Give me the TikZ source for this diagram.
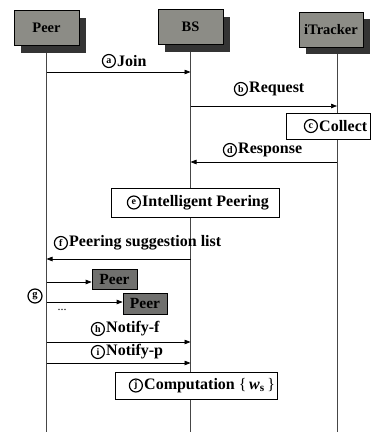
\documentclass[tikz,border=0pt]{standalone}
\usepackage{fontspec}
\setmainfont{Liberation Serif}
\usetikzlibrary{arrows.meta,shadows,backgrounds,positioning}
\definecolor{boxgray}{RGB}{140,140,134}
\definecolor{shadowgray}{RGB}{52,52,52}
\definecolor{peergray}{RGB}{112,112,110}
\definecolor{linegray}{RGB}{70,70,70}
\begin{document}
\begin{tikzpicture}[x=1pt,y=-1pt,
  actor/.style={draw=black, line width=0.6pt, fill=boxgray, minimum width=65pt, minimum height=35pt, inner sep=0pt,
    font=\fontsize{14.5}{16}\selectfont\bfseries,
    drop shadow={shadow xshift=7pt, shadow yshift=-7pt, fill=shadowgray, opacity=1}},
  life/.style={draw=linegray, line width=0.8pt},
  msg/.style={draw=black, line width=0.7pt, -{Triangle[length=6pt,width=4.5pt]}},
  lbl/.style={font=\fontsize{16}{18}\selectfont\bfseries, inner sep=0pt, anchor=west},
  circ/.style={circle, draw=black, line width=1.2pt, inner sep=0pt, minimum size=13pt,
    font=\fontsize{10}{10}\selectfont\bfseries, left=1pt of #1},
  proc/.style={draw=black, line width=0.7pt, fill=white, inner sep=0pt},
  smallpeer/.style={draw=black, line width=0.7pt, fill=peergray, inner sep=0pt, font=\fontsize{15.5}{17}\selectfont\bfseries}
]
\useasboundingbox (0,0) rectangle (382,432);

% actors
\node[actor] (peer) at (46.5,28) {Peer};
\node[actor] (bs) at (190.5,27) {BS};
\node[actor, minimum width=64pt] (itr) at (331,29.5) {iTracker};

\coordinate (bottom) at (46.5,432);
\coordinate (itrL) at (337,47);

% lifelines
\begin{scope}[on background layer]
  \fill[white] (0,0) rectangle (382,432);
  \draw[life] (peer.south) -- (bottom);
  \draw[life] (bs.south) -- (bs.south |- bottom);
  \draw[life] (itrL) -- (itrL |- bottom);
\end{scope}

% a Join
\node[lbl] (ljoin) at (117,61) {Join};
\node[circ=ljoin] (ca) {a};
\draw[msg] (peer.south |- 0,72) -- (bs.south |- 0,72);

% b Request
\node[lbl] (lreq) at (249,89) {Request};
\node[circ=lreq] (cb) {b};
\draw[msg] (bs.south |- 0,106) -- (itrL |- 0,106);

% c Collect
\node[proc, minimum width=84pt, minimum height=26pt] (collect) at (328,126) {};
\node[lbl] (tcollect) at (319,126) {Collect};
\node[circ=tcollect] (cc) {c};

% d Response
\node[lbl] (lresp) at (238,150) {Response};
\node[circ=lresp] (cd) {d};
\draw[msg] (itrL |- 0,162) -- (bs.south |- 0,162);

% e Intelligent Peering
\node[proc, minimum width=168pt, minimum height=29pt] (ip) at (195,202.5) {};
\node[lbl] (tip) at (142,202.5) {Intelligent Peering};
\node[circ=tip] (ce) {e};

% f Peering suggestion list
\node[lbl] (lsug) at (69,243) {Peering suggestion list};
\node[circ=lsug] (cf) {f};
\draw[msg] (bs.south |- 0,259) -- (peer.south |- 0,259);

% g peers
\node[smallpeer, minimum width=45pt, minimum height=20pt] (p1) at (114.5,279) {Peer};
\node[smallpeer, minimum width=44pt, minimum height=21pt] (p2) at (145,303.5) {Peer};
\draw[msg] (peer.south |- 0,282) -- (p1.west |- 0,282);
\draw[msg] (peer.south |- 0,302) -- (p2.west |- 0,302);
\node[circle, draw=black, line width=1.2pt, inner sep=0pt, minimum size=14pt,
  font=\fontsize{10.5}{10.5}\selectfont\bfseries] (cg) at (35,296) {g};
\node[inner sep=0pt, font=\fontsize{12}{12}\selectfont] (dots) at (62,310) {...};

% h Notify-f
\node[lbl] (lnf) at (106,329) {Notify-f};
\node[circ=lnf] (ch) {h};
\draw[msg] (peer.south |- 0,342) -- (bs.south |- 0,342);

% i Notify-p
\node[lbl] (lnp) at (106,352) {Notify-p};
\node[circ=lnp] (ci) {i};
\draw[msg] (peer.south |- 0,363) -- (bs.south |- 0,363);

% j Computation
\node[proc, minimum width=162pt, minimum height=27pt] (comp) at (196,385.5) {};
\node[lbl] (tcomp) at (144,385.5)
  {Computation\ {\mdseries\{}\,\textit{w}\textsubscript{\textbf{s}}\,{\mdseries\}}};
\node[circ=tcomp] (cj) {j};
\end{tikzpicture}
\end{document}
